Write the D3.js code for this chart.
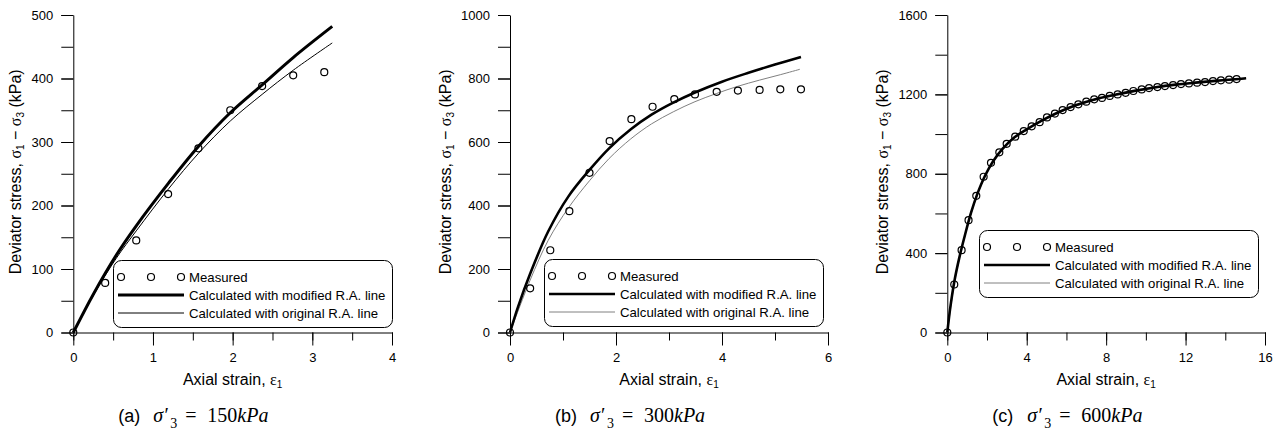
<!DOCTYPE html>
<html>
<head>
<meta charset="utf-8">
<script src="https://cdn.jsdelivr.net/npm/d3@7"></script>
<style>
  body { margin: 0; background: #fff; }
  svg { display: block; }
  text { font-family: "Liberation Sans", Arial, sans-serif; }
</style>
</head>
<body>
<svg id="chart" width="1284" height="437"></svg>
<script>
// (a) sigma'3 = 150 kPa
const aMeasuredStrain = [0, 0.4, 0.79, 1.19, 1.57, 1.97, 2.37, 2.76, 3.15]
const aMeasuredStress = [0, 78, 145, 218, 290, 350, 388, 405, 410]
const aModifiedStrain = [0, 0.25, 0.54, 0.79, 1.2, 1.57, 1.97, 2.37, 2.76, 3.25]
const aModifiedStress = [0, 60, 122, 168, 236, 293, 346, 390, 433, 482]
const aOriginalStrain = [0, 0.25, 0.54, 0.79, 1.2, 1.57, 1.97, 2.37, 2.76, 3.25]
const aOriginalStress = [0, 58, 117, 160, 227, 282, 333, 375, 413, 456]

// (b) sigma'3 = 300 kPa
const bMeasuredStrain = [0, 0.38, 0.76, 1.12, 1.5, 1.88, 2.29, 2.69, 3.1, 3.49, 3.9, 4.3, 4.71, 5.1, 5.49]
const bMeasuredStress = [0, 139, 259, 382, 503, 603, 672, 711, 735, 750, 758, 762, 764, 766, 766]
const bModifiedStrain = [0, 0.15, 0.38, 0.72, 1.1, 1.5, 1.87, 2.28, 2.67, 3.08, 3.49, 4.0, 4.5, 5.0, 5.49]
const bModifiedStress = [0, 80, 185, 318, 428, 512, 580, 640, 686, 724, 756, 790, 818, 844, 868]
const bOriginalStrain = [0, 0.38, 0.72, 1.1, 1.5, 1.87, 2.28, 2.67, 3.08, 3.49, 3.9, 4.29, 4.71, 5.1, 5.47]
const bOriginalStress = [0, 165, 290, 392, 478, 548, 610, 657, 695, 727, 753, 775, 795, 812, 829]

// (c) sigma'3 = 600 kPa
const cMeasuredStrain = [0, 0.35, 0.72, 1.07, 1.46, 1.83, 2.2, 2.62, 2.99, 3.42, 3.85, 4.25, 4.65, 5.02,
  5.42, 5.81, 6.21, 6.6, 7.0, 7.4, 7.79, 8.18, 8.58, 8.98, 9.37, 9.79, 10.16, 10.58, 10.96, 11.37,
  11.77, 12.17, 12.58, 12.98, 13.38, 13.78, 14.19, 14.57]
const cMeasuredStress = [0, 242, 415, 566, 689, 785, 855, 908, 951, 987, 1015, 1039, 1060, 1084,
  1103, 1121, 1136, 1150, 1163, 1175, 1182, 1192, 1200, 1208, 1217, 1225, 1232, 1237, 1242, 1247,
  1252, 1255, 1259, 1262, 1267, 1271, 1274, 1277]
const cModifiedStrain = [0, 0.15, 0.35, 0.6, 0.9, 1.2, 1.5, 1.9, 2.3, 2.8, 3.4, 4.0, 4.8, 5.6, 6.5,
  7.5, 8.5, 9.5, 10.5, 11.5, 12.5, 13.5, 14.5, 15.05]
const cModifiedStress = [0, 125, 255, 375, 495, 605, 695, 790, 862, 928, 985, 1024, 1070, 1110, 1146,
  1177, 1199, 1219, 1236, 1249, 1259, 1268, 1276, 1281]
const cOriginalStrain = [0, 0.35, 0.6, 0.9, 1.2, 1.5, 1.9, 2.3, 2.8, 3.4, 4.0, 4.8, 5.6, 6.5, 7.5,
  8.5, 9.5, 10.5, 11.5, 12.5, 13.5, 14.5, 15.0]
const cOriginalStress = [0, 245, 368, 490, 600, 690, 786, 858, 922, 980, 1020, 1066, 1106, 1142, 1173,
  1196, 1216, 1233, 1247, 1258, 1267, 1275, 1279]

const legendLabels = ['Measured', 'Calculated with modified R.A. line', 'Calculated with original R.A. line']

const plotTop = 15
const plotBottom = 332.5

const panels = [
  {
    letter: 'a', stress: '150', left: 73.3, right: 392,
    xMax: 4, xStep: 1, xMinor: 0.5, yMax: 500, yStep: 100, yMinor: 50,
    titleOffset: 52, thickWidth: 3, thinColor: '#000', legend: [113, 260],
    measured: [aMeasuredStrain, aMeasuredStress],
    modified: [aModifiedStrain, aModifiedStress],
    original: [aOriginalStrain, aOriginalStress]
  },
  {
    letter: 'b', stress: '300', left: 510, right: 828,
    xMax: 6, xStep: 2, xMinor: 1, yMax: 1000, yStep: 200, yMinor: 100,
    titleOffset: 59, thickWidth: 2.6, thinColor: '#808080', legend: [544, 259],
    measured: [bMeasuredStrain, bMeasuredStress],
    modified: [bModifiedStrain, bModifiedStress],
    original: [bOriginalStrain, bOriginalStress]
  },
  {
    letter: 'c', stress: '600', left: 947.3, right: 1265,
    xMax: 16, xStep: 4, xMinor: 2, yMax: 1600, yStep: 400, yMinor: 200,
    titleOffset: 59, thickWidth: 2.6, thinColor: '#808080', legend: [979, 230],
    measured: [cMeasuredStrain, cMeasuredStress],
    modified: [cModifiedStrain, cModifiedStress],
    original: [cOriginalStrain, cOriginalStress]
  }
]

const svg = d3.select('#chart')
svg.append('rect').attr('width', 1284).attr('height', 437).attr('fill', '#fff')

const fmt = d3.format('d')

function zip(pair) {
  return pair[0].map((v, i) => [v, pair[1][i]])
}

panels.forEach(p => {
  const x = d3.scaleLinear().domain([0, p.xMax]).range([p.left, p.right])
  const y = d3.scaleLinear().domain([0, p.yMax]).range([plotBottom, plotTop])
  const g = svg.append('g')

  // minor ticks
  g.append('g')
    .attr('transform', 'translate(0,' + plotBottom + ')')
    .call(d3.axisBottom(x).tickValues(d3.range(0, p.xMax + 1e-9, p.xMinor)).tickSize(8).tickFormat(''))
    .call(a => a.select('.domain').remove())
  g.append('g')
    .attr('transform', 'translate(' + p.left + ',0)')
    .call(d3.axisLeft(y).tickValues(d3.range(0, p.yMax + 1e-9, p.yMinor)).tickSize(12).tickFormat(''))
    .call(a => a.select('.domain').remove())

  // major ticks + labels
  const xAxis = g.append('g')
    .attr('transform', 'translate(0,' + plotBottom + ')')
    .call(d3.axisBottom(x).tickValues(d3.range(0, p.xMax + 1e-9, p.xStep))
      .tickSize(13).tickSizeOuter(0).tickPadding(7).tickFormat(fmt))
  const yAxis = g.append('g')
    .attr('transform', 'translate(' + p.left + ',0)')
    .call(d3.axisLeft(y).tickValues(d3.range(0, p.yMax + 1e-9, p.yStep))
      .tickSize(12).tickSizeOuter(0).tickPadding(8).tickFormat(fmt))
  ;[xAxis, yAxis].forEach(a => {
    a.attr('font-family', '"Liberation Sans", Arial, sans-serif').attr('font-size', 13)
  })

  // axis titles
  const xt = g.append('text')
    .attr('x', (p.left + p.right) / 2)
    .attr('y', 385)
    .attr('text-anchor', 'middle')
    .attr('font-size', 16)
  xt.append('tspan').text('Axial strain, ')
  xt.append('tspan').attr('font-family', '"Liberation Serif", serif').text('ε')
  xt.append('tspan').attr('font-size', 10).attr('dy', 3).text('1')

  const yt = g.append('text')
    .attr('transform', 'translate(' + (p.left - p.titleOffset) + ',' + ((plotTop + plotBottom) / 2 - 2) + ') rotate(-90)')
    .attr('text-anchor', 'middle')
    .attr('font-size', 16)
  yt.append('tspan').text('Deviator stress, ')
  yt.append('tspan').attr('font-family', '"Liberation Serif", serif').text('σ')
  yt.append('tspan').attr('font-size', 10).attr('dy', 3).text('1')
  yt.append('tspan').attr('dy', -3).text(' − ')
  yt.append('tspan').attr('font-family', '"Liberation Serif", serif').text('σ')
  yt.append('tspan').attr('font-size', 10).attr('dy', 3).text('3')
  yt.append('tspan').attr('dy', -3).text(' (kPa)')

  // curves
  const line = d3.line()
    .x(d => x(d[0]))
    .y(d => y(d[1]))
    .curve(d3.curveCatmullRom.alpha(0.5))

  g.append('path')
    .datum(zip(p.original))
    .attr('d', line)
    .attr('fill', 'none')
    .attr('stroke', p.thinColor)
    .attr('stroke-width', 1)

  g.append('path')
    .datum(zip(p.modified))
    .attr('d', line)
    .attr('fill', 'none')
    .attr('stroke', '#000')
    .attr('stroke-width', p.thickWidth)

  g.selectAll('.pt')
    .data(zip(p.measured))
    .enter()
    .append('circle')
    .attr('cx', d => x(d[0]))
    .attr('cy', d => y(d[1]))
    .attr('r', 3.5)
    .attr('fill', 'none')
    .attr('stroke', '#000')
    .attr('stroke-width', 1.2)

  // legend
  const lg = g.append('g').attr('transform', 'translate(' + p.legend[0] + ',' + p.legend[1] + ')')
  lg.append('rect')
    .attr('x', 0.5).attr('y', 0.5)
    .attr('width', 279).attr('height', 67)
    .attr('rx', 8)
    .attr('fill', '#fff')
    .attr('stroke', '#000')
    .attr('stroke-width', 1)
  ;[8, 38, 68].forEach(cx => {
    lg.append('circle').attr('cx', cx).attr('cy', 17).attr('r', 3.5)
      .attr('fill', 'none').attr('stroke', '#000').attr('stroke-width', 1.2)
  })
  lg.append('line').attr('x1', 5).attr('x2', 71).attr('y1', 35).attr('y2', 35)
    .attr('stroke', '#000').attr('stroke-width', p.thickWidth)
  lg.append('line').attr('x1', 5).attr('x2', 71).attr('y1', 53).attr('y2', 53)
    .attr('stroke', p.thinColor).attr('stroke-width', 1)
  legendLabels.forEach((t, i) => {
    lg.append('text').attr('x', 76).attr('y', 17 + i * 18 + 4.5)
      .attr('font-size', 13.2).text(t)
  })

  // caption
  const cx = p.left + 45
  const cap = g.append('text').attr('y', 422).attr('font-size', 20)
  cap.append('tspan').attr('x', cx).attr('font-size', 18).text('(' + p.letter + ')')
  cap.append('tspan').attr('x', cx + 35).attr('font-family', '"Liberation Serif", serif')
    .attr('font-style', 'italic').text('σ′')
  cap.append('tspan').attr('x', cx + 52).attr('dy', 6).attr('font-size', 14)
    .attr('font-family', '"Liberation Serif", serif').text('3')
  cap.append('tspan').attr('x', cx + 67).attr('dy', -6)
    .attr('font-family', '"Liberation Serif", serif').text('=')
  cap.append('tspan').attr('x', cx + 89)
    .attr('font-family', '"Liberation Serif", serif').text(p.stress)
  cap.append('tspan')
    .attr('font-family', '"Liberation Serif", serif').attr('font-style', 'italic').text('kPa')
})
</script>
</body>
</html>
